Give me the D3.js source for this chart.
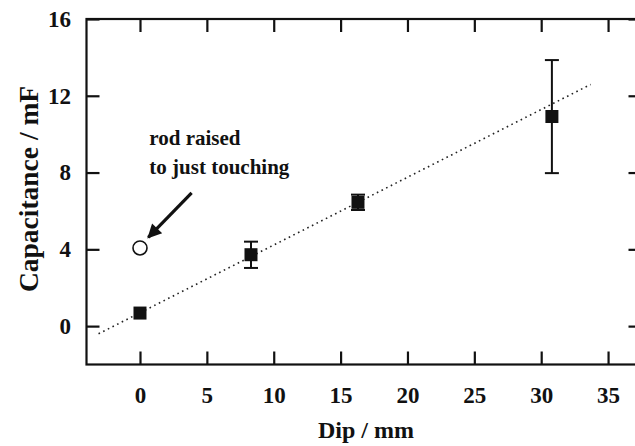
<!DOCTYPE html>
<html>
<head>
<meta charset="utf-8">
<script src="https://cdn.jsdelivr.net/npm/d3@7"></script>
<style>
  body { margin: 0; background: #fff; }
  svg text { font-family: "Liberation Serif", "Times New Roman", serif; font-weight: bold; fill: #111; }
</style>
</head>
<body>
<svg width="635" height="446"></svg>
<script>
const svg = d3.select("svg");

// measured points (filled squares)
const dip = [0, 8.3, 16.3, 30.8];
const cap = [0.68, 3.72, 6.45, 10.92];
const capLow = [0.68, 3.03, 6.05, 7.97];
const capHigh = [0.68, 4.40, 6.85, 13.86];

// open circle: rod raised to just touching
const openDip = [0];
const openCap = [4.07];

// dotted fit line end points
const fitDip = [-3.1, 33.7];
const fitCap = [-0.40, 12.59];

const xTicks = [0, 5, 10, 15, 20, 25, 30, 35];
const yTicks = [0, 4, 8, 12, 16];

const noteLines = ["rod raised", "to just touching"];

const serif = '"Liberation Serif", "Times New Roman", serif';

const x = d3.scaleLinear().domain([-4, 37.5]).range([86.5, 641.5]);
const y = d3.scaleLinear().domain([-2, 16]).range([364.5, 19]);

const tickLen = 13;

// frame
const g = svg.append("g");
g.append("rect")
  .attr("x", x(-4)).attr("y", y(16))
  .attr("width", x(37.5) - x(-4)).attr("height", y(-2) - y(16))
  .attr("fill", "none").attr("stroke", "#111").attr("stroke-width", 2.2);

// bottom and top axes, ticks inward
const xb = g.append("g").attr("transform", "translate(0," + y(-2) + ")")
  .call(d3.axisBottom(x).tickValues(xTicks).tickSize(-tickLen).tickPadding(22));
const xt = g.append("g").attr("transform", "translate(0," + y(16) + ")")
  .call(d3.axisTop(x).tickValues(xTicks).tickSize(-tickLen).tickFormat(""));
const yl = g.append("g").attr("transform", "translate(" + x(-4) + ",0)")
  .call(d3.axisLeft(y).tickValues(yTicks).tickSize(-tickLen).tickPadding(15.5));
const yr = g.append("g").attr("transform", "translate(" + x(37.5) + ",0)")
  .call(d3.axisRight(y).tickValues(yTicks).tickSize(-tickLen).tickFormat(""));

[xb, xt, yl, yr].forEach(a => {
  a.attr("font-family", serif);
  a.select(".domain").remove();
  a.selectAll(".tick line").attr("stroke", "#111").attr("stroke-width", 2.2);
  a.selectAll(".tick text").attr("font-size", 23).attr("fill", "#111");
});
xb.selectAll(".tick text").attr("dy", "0.71em");

// axis titles
svg.append("text")
  .attr("x", 366).attr("y", 438)
  .attr("text-anchor", "middle").attr("font-size", 24)
  .text("Dip / mm");
svg.append("text")
  .attr("transform", "translate(37.5," + 189 + ") rotate(-90)")
  .attr("text-anchor", "middle").attr("font-size", 27.5)
  .text("Capacitance / mF");

// dotted fit
g.append("path")
  .datum(fitDip.map((d, i) => [d, fitCap[i]]))
  .attr("fill", "none").attr("stroke", "#222").attr("stroke-width", 1.6)
  .attr("stroke-dasharray", "1.6,3.6")
  .attr("d", d3.line().x(d => x(d[0])).y(d => y(d[1])));

// error bars
const pts = dip.map((d, i) => ({ x: d, y: cap[i], lo: capLow[i], hi: capHigh[i] }));
const eb = g.selectAll(".err").data(pts.filter(d => d.hi > d.lo)).enter().append("g")
  .attr("class", "err").attr("stroke", "#111").attr("stroke-width", 2);
eb.append("line")
  .attr("x1", d => x(d.x)).attr("x2", d => x(d.x))
  .attr("y1", d => y(d.lo)).attr("y2", d => y(d.hi));
eb.append("line")
  .attr("x1", d => x(d.x) - 7).attr("x2", d => x(d.x) + 7)
  .attr("y1", d => y(d.lo)).attr("y2", d => y(d.lo));
eb.append("line")
  .attr("x1", d => x(d.x) - 7).attr("x2", d => x(d.x) + 7)
  .attr("y1", d => y(d.hi)).attr("y2", d => y(d.hi));

// squares
g.selectAll(".sq").data(pts).enter().append("rect")
  .attr("class", "sq")
  .attr("x", d => x(d.x) - 6.5).attr("y", d => y(d.y) - 6.5)
  .attr("width", 13).attr("height", 13)
  .attr("fill", "#111");

// open circle
g.selectAll(".open").data(openDip.map((d, i) => [d, openCap[i]])).enter().append("circle")
  .attr("class", "open")
  .attr("cx", d => x(d[0])).attr("cy", d => y(d[1])).attr("r", 7)
  .attr("fill", "#fff").attr("stroke", "#111").attr("stroke-width", 1.6);

// annotation arrow
svg.append("defs").append("marker")
  .attr("id", "head").attr("viewBox", "0 0 10 10")
  .attr("refX", 9).attr("refY", 5)
  .attr("markerWidth", 5).attr("markerHeight", 4.4)
  .attr("markerUnits", "strokeWidth")
  .attr("orient", "auto")
  .append("path").attr("d", "M0,0 L10,5 L0,10 Z").attr("fill", "#111");

g.append("line")
  .attr("x1", x(3.86)).attr("y1", y(6.94))
  .attr("x2", x(0.62)).attr("y2", y(4.62))
  .attr("stroke", "#111").attr("stroke-width", 3.2)
  .attr("marker-end", "url(#head)");

// annotation text
g.selectAll(".note").data(noteLines).enter().append("text")
  .attr("class", "note")
  .attr("x", x(0.7))
  .attr("y", (d, i) => y(9.43) + i * 28.5)
  .attr("font-size", 21)
  .text(d => d);
</script>
</body>
</html>
